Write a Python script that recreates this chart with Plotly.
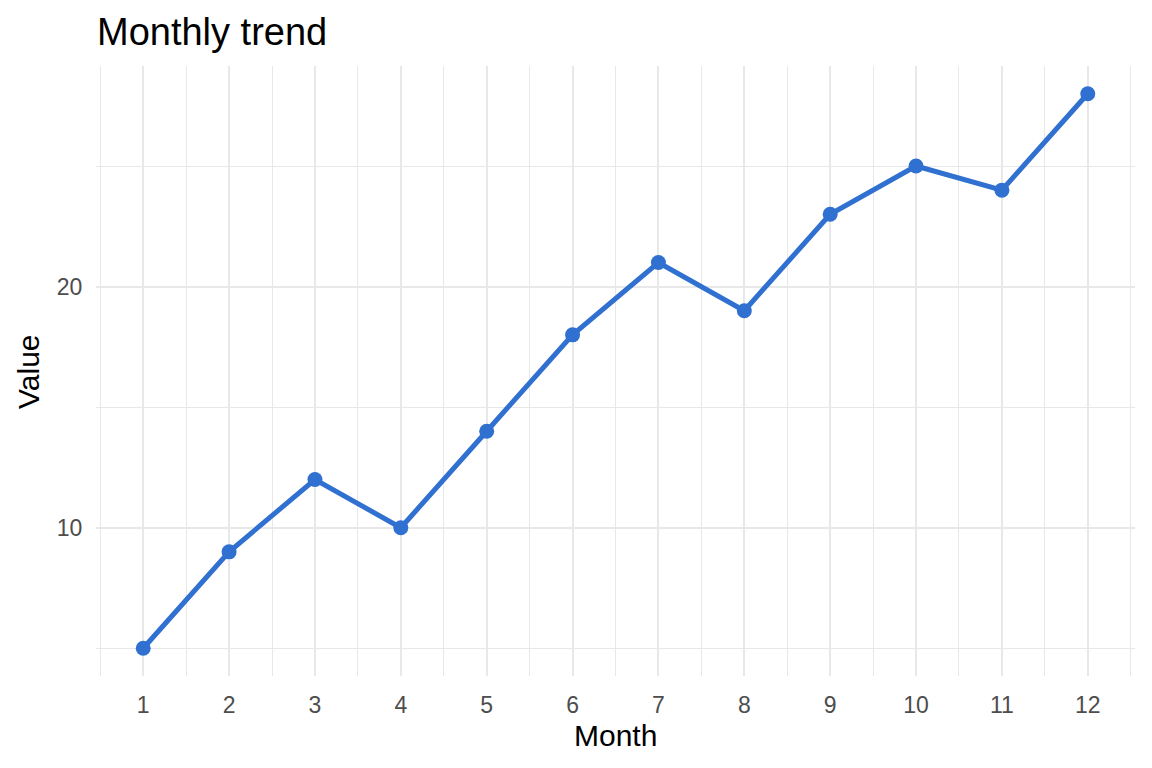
import plotly.graph_objects as go

months = [1, 2, 3, 4, 5, 6, 7, 8, 9, 10, 11, 12]
values = [5, 9, 12, 10, 14, 18, 21, 19, 23, 25, 24, 28]
y_major = [10, 20]
y_minor = [5, 15, 25]
x_minor = [0.5, 1.5, 2.5, 3.5, 4.5, 5.5, 6.5, 7.5, 8.5, 9.5, 10.5, 11.5, 12.5]

FONT = "Liberation Sans, Arial, Helvetica, sans-serif"
LINE = "#3070D0"
GRID = "#E8E8E8"

fig = go.Figure()
fig.add_trace(go.Scatter(
    x=months, y=values, mode="lines+markers",
    line=dict(color=LINE, width=5),
    marker=dict(color=LINE, size=15),
    showlegend=False, hoverinfo="x+y",
))

W, H = 1152, 768
L, R, T, B = 96, 17, 66, 92
pw, ph = W - L - R, H - T - B

fig.update_layout(
    width=W, height=H,
    margin=dict(l=L, r=R, t=T, b=B, pad=0),
    paper_bgcolor="white", plot_bgcolor="white",
    font=dict(family=FONT, color="#4D4D4D"),
    title=dict(text="Monthly trend", x=97 / W, xanchor="left", xref="container",
               y=1 - 32 / H, yanchor="middle", yref="container",
               font=dict(size=38, color="black", family=FONT)),
    xaxis=dict(range=[0.45, 12.55], tickvals=months, ticktext=[str(m) for m in months],
               showgrid=True, gridcolor=GRID, gridwidth=2, zeroline=False, showline=False,
               ticks="outside", ticklen=8, tickcolor="rgba(0,0,0,0)",
               tickfont=dict(size=23, color="#4D4D4D"),
               minor=dict(tickvals=x_minor, showgrid=True, gridcolor=GRID, gridwidth=1, ticks="")),
    yaxis=dict(range=[3.85, 29.15], tickvals=y_major, ticktext=[str(v) for v in y_major],
               showgrid=True, gridcolor=GRID, gridwidth=2, zeroline=False, showline=False,
               ticks="outside", ticklen=8, tickcolor="rgba(0,0,0,0)",
               tickfont=dict(size=23, color="#4D4D4D"),
               minor=dict(tickvals=y_minor, showgrid=True, gridcolor=GRID, gridwidth=1, ticks="")),
    annotations=[
        dict(text="Month", xref="paper", yref="paper", x=0.5, y=-(735 - (H - B)) / ph,
             xanchor="center", yanchor="middle", showarrow=False,
             font=dict(size=30, color="black", family=FONT)),
        dict(text="Value", xref="paper", yref="paper", x=(28 - L) / pw, y=0.5 + (372 - (T + ph / 2)) / -ph,
             xanchor="center", yanchor="middle", showarrow=False, textangle=-90,
             font=dict(size=30, color="black", family=FONT)),
    ],
)

fig.write_html("out.html")
